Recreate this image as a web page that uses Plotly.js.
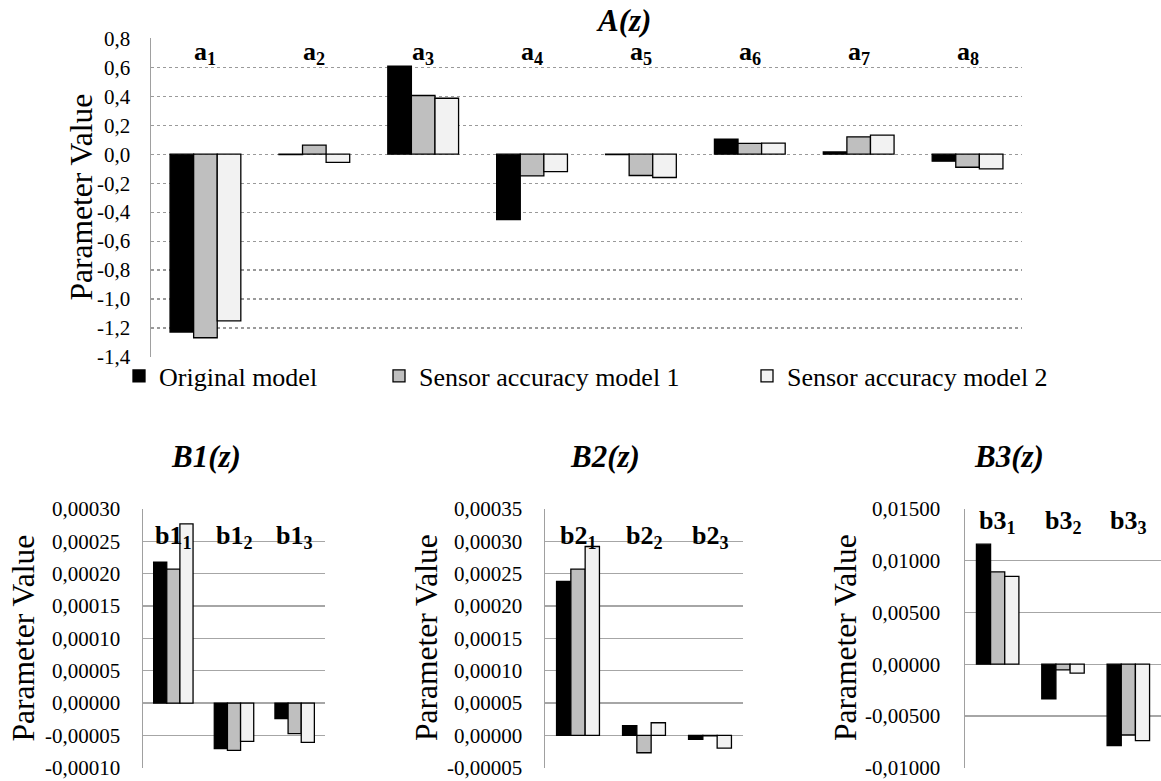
<!DOCTYPE html>
<html>
<head>
<meta charset="utf-8">
<script src="https://cdn.plot.ly/plotly-3.0.1.min.js"></script>
<style>html,body{margin:0;padding:0;background:#fff;}#chart{width:1161px;height:781px;}</style>
</head>
<body>
<div id="chart"></div>
<script>
// ---------- data ----------
const seriesNames = ['Original model', 'Sensor accuracy model 1', 'Sensor accuracy model 2'];

const aCategories = ['a1', 'a2', 'a3', 'a4', 'a5', 'a6', 'a7', 'a8'];
const aOriginal = [-1.228, -0.003, 0.607, -0.452, -0.003, 0.103, 0.015, -0.048];
const aSensor1  = [-1.267, 0.062, 0.405, -0.150, -0.147, 0.074, 0.120, -0.090];
const aSensor2  = [-1.150, -0.057, 0.386, -0.120, -0.161, 0.076, 0.131, -0.101];

const b1Categories = ['b11', 'b12', 'b13'];
const b1Original = [0.000218, -0.0000706, -0.0000242];
const b1Sensor1  = [0.000207, -0.0000732, -0.0000474];
const b1Sensor2  = [0.000277, -0.0000593, -0.0000608];

const b2Categories = ['b21', 'b22', 'b23'];
const b2Original = [0.000238, 0.0000149, -0.0000062];
const b2Sensor1  = [0.000257, -0.0000269, -0.0000008];
const b2Sensor2  = [0.000292, 0.0000195, -0.0000197];

const b3Categories = ['b31', 'b32', 'b33'];
const b3Original = [0.0116, -0.00335, -0.00787];
const b3Sensor1  = [0.00893, -0.00055, -0.00684];
const b3Sensor2  = [0.00848, -0.00087, -0.00739];

const aTickVals = [0.8, 0.6, 0.4, 0.2, 0.0, -0.2, -0.4, -0.6, -0.8, -1.0, -1.2, -1.4];
const aTickText = ['0,8', '0,6', '0,4', '0,2', '0,0', '-0,2', '-0,4', '-0,6', '-0,8', '-1,0', '-1,2', '-1,4'];
const b1TickVals = [0.0003, 0.00025, 0.0002, 0.00015, 0.0001, 0.00005, 0, -0.00005, -0.0001];
const b1TickText = ['0,00030', '0,00025', '0,00020', '0,00015', '0,00010', '0,00005', '0,00000', '-0,00005', '-0,00010'];
const b2TickVals = [0.00035, 0.0003, 0.00025, 0.0002, 0.00015, 0.0001, 0.00005, 0, -0.00005];
const b2TickText = ['0,00035', '0,00030', '0,00025', '0,00020', '0,00015', '0,00010', '0,00005', '0,00000', '-0,00005'];
const b3TickVals = [0.015, 0.01, 0.005, 0, -0.005, -0.01];
const b3TickText = ['0,01500', '0,01000', '0,00500', '0,00000', '-0,00500', '-0,01000'];

// ---------- styling ----------
const W = 1161, H = 781;
const FONT = "'Liberation Serif', 'Times New Roman', serif";
const fills = ['#000000', '#bfbfbf', '#f2f2f2'];
const legendIds = ['legend', 'legend2', 'legend3'];
const px = v => v / W;
const py = v => 1 - v / H;

function barTraces(cats, vals, xa, ya, showLegend) {
  return vals.map((v, i) => ({
    type: 'bar', x: cats, y: v, name: seriesNames[i],
    xaxis: xa, yaxis: ya,
    marker: {color: fills[i], line: {color: '#000', width: 1.3}},
    showlegend: showLegend, legend: legendIds[i],
    hoverinfo: 'skip'
  }));
}

const data = [
  ...barTraces(aCategories, [aOriginal, aSensor1, aSensor2], 'x', 'y', true),
  ...barTraces(b1Categories, [b1Original, b1Sensor1, b1Sensor2], 'x2', 'y2', false),
  ...barTraces(b2Categories, [b2Original, b2Sensor1, b2Sensor2], 'x3', 'y3', false),
  ...barTraces(b3Categories, [b3Original, b3Sensor1, b3Sensor2], 'x4', 'y4', false)
];

function xAxis(l, r) {
  return {domain: [px(l), px(r)], showticklabels: false, showgrid: false, showline: false,
          zeroline: false, ticks: '', fixedrange: true};
}
function yAxis(t, b, range, vals, text, dash, standoff) {
  return {domain: [py(b), py(t)], range: range, tickvals: vals, ticktext: text,
          showgrid: true, gridcolor: dash ? '#9a9a9a' : '#a6a6a6', gridwidth: dash ? 1.2 : 1.3,
          griddash: dash ? 'dot' : 'solid',
          zeroline: false, showline: true, linecolor: '#a0a0a0', linewidth: 1.5,
          ticks: '', ticklabelstandoff: standoff,
          tickfont: {family: FONT, size: 21, color: '#000'}, fixedrange: true};
}

const layout = {
  width: W, height: H,
  margin: {l: 0, r: 0, t: 0, b: 0},
  paper_bgcolor: '#fff', plot_bgcolor: 'rgba(0,0,0,0)',
  font: {family: FONT, color: '#000'},
  barmode: 'group', bargap: 0.35, bargroupgap: 0,
  xaxis: xAxis(151, 1022),
  yaxis: yAxis(38.3, 357, [-1.4, 0.8], aTickVals, aTickText, true, 15),
  xaxis2: Object.assign(xAxis(143, 325), {anchor: 'y2'}),
  yaxis2: Object.assign(yAxis(509, 767.7, [-0.0001, 0.0003], b1TickVals, b1TickText, false, 17), {anchor: 'x2'}),
  xaxis3: Object.assign(xAxis(545, 743), {anchor: 'y3'}),
  yaxis3: Object.assign(yAxis(509, 767.7, [-0.00005, 0.00035], b2TickVals, b2TickText, false, 17), {anchor: 'x3'}),
  xaxis4: Object.assign(xAxis(965, 1161), {anchor: 'y4'}),
  yaxis4: Object.assign(yAxis(509, 767.7, [-0.01, 0.015], b3TickVals, b3TickText, false, 19), {anchor: 'x4'}),
  annotations: [],
  showlegend: true
};

// three legend entries positioned like the reference
const legendX = [137, 397, 765];
legendIds.forEach((id, i) => {
  layout[id] = {x: px(legendX[i] - 18), y: py(376), xanchor: 'left', yanchor: 'middle',
                orientation: 'h', bgcolor: 'rgba(0,0,0,0)', borderwidth: 0,
                itemwidth: 30, font: {family: FONT, size: 26, color: '#000'}};
});

// titles
const titles = [
  {text: '<b><i>A(z)</i></b>', x: 623, y: 20},
  {text: '<b><i>B1(z)</i></b>', x: 206, y: 457},
  {text: '<b><i>B2(z)</i></b>', x: 605, y: 457},
  {text: '<b><i>B3(z)</i></b>', x: 1009, y: 457}
];
titles.forEach(t => layout.annotations.push({
  text: t.text, x: px(t.x), y: py(t.y), xref: 'paper', yref: 'paper',
  xanchor: 'center', yanchor: 'middle', showarrow: false,
  font: {family: FONT, size: 31, color: '#000'}
}));

// y-axis titles
[[81, 197.5], [22.5, 638], [426, 638], [845, 638]].forEach(p => layout.annotations.push({
  text: 'Parameter Value', x: px(p[0]), y: py(p[1]), xref: 'paper', yref: 'paper',
  xanchor: 'center', yanchor: 'middle', textangle: -90, showarrow: false,
  font: {family: FONT, size: 31.5, color: '#000'}
}));

// category labels inside plot areas
const fmtCat = c => '<b>' + c.replace(/(\d)$/, '<sub>$1</sub>') + '</b>';
[[aCategories, 'x', 53], [b1Categories, 'x2', 537], [b2Categories, 'x3', 537], [b3Categories, 'x4', 522]]
  .forEach(([cats, xr, yy]) => cats.forEach(c => layout.annotations.push({
    text: fmtCat(c), x: c, xref: xr, y: py(yy), yref: 'paper',
    xanchor: 'center', yanchor: 'middle', showarrow: false,
    font: {family: FONT, size: 26, color: '#000'}
  })));

Plotly.newPlot('chart', data, layout, {staticPlot: true, displayModeBar: false});
</script>
</body>
</html>
